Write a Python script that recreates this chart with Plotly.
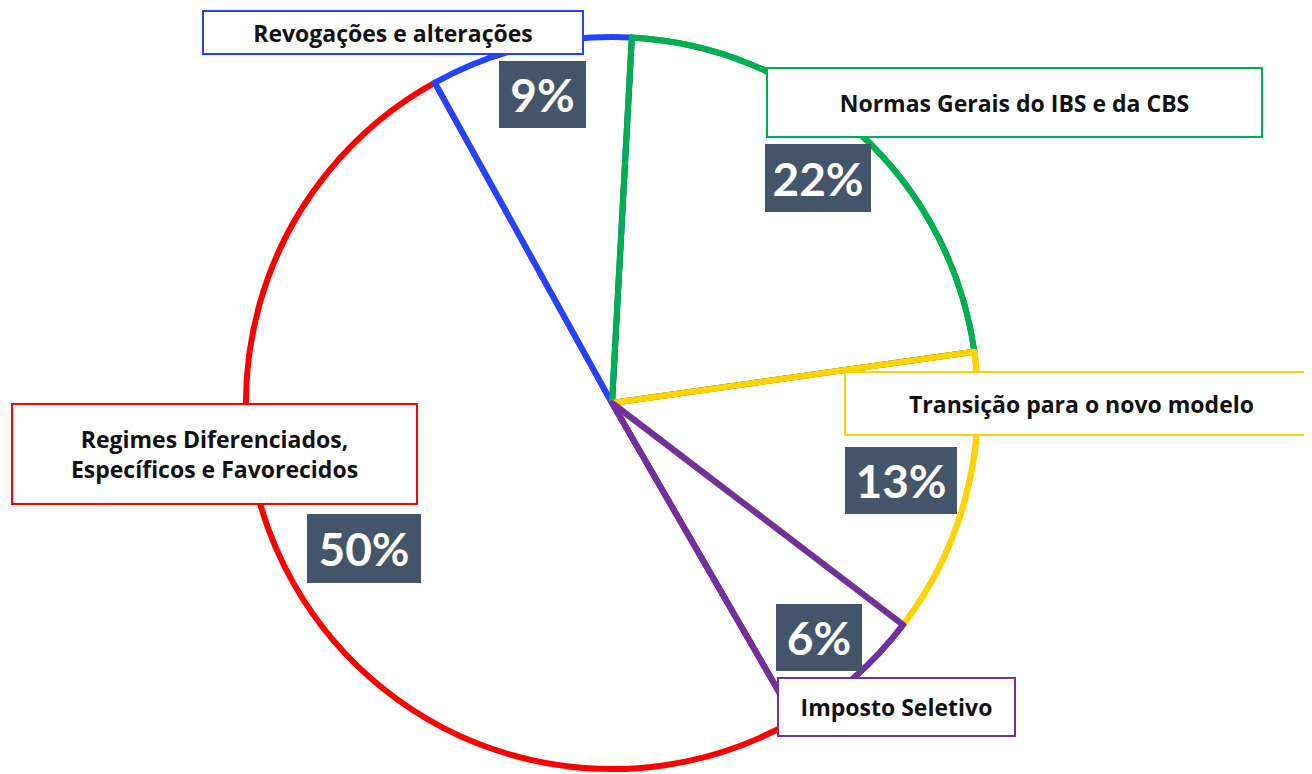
import plotly.graph_objects as go

# ---- data ----
categories = [
    "Normas Gerais do IBS e da CBS",
    "Transição para o novo modelo",
    "Imposto Seletivo",
    "Regimes Diferenciados,<br>Específicos e Favorecidos",
    "Revogações e alterações",
]
shares = [21.9, 12.6, 6.3, 50.3, 8.9]
pct_labels = [f"{round(v)}%" for v in shares]

# ---- styles ----
colors = ["#00B050", "#FFD200", "#7030A0", "#FF0000", "#2343FF"]
W, H = 1312, 774
OFF = 8  # page body margin: shift everything so it lands where the reference has it
CX, CY, R = 612 - OFF, 403 - OFF, 366
TRANSPARENT = "rgba(0,0,0,0)"

dom_x = [(CX - R) / W, (CX + R) / W]
dom_y = [1 - (CY + R) / H, 1 - (CY - R) / H]

fig = go.Figure()


def add_pie(line_colors, fill_colors):
    fig.add_trace(go.Pie(
        labels=categories,
        values=shares,
        sort=False,
        direction="clockwise",
        rotation=3.1,
        textinfo="none",
        hoverinfo="skip",
        showlegend=False,
        domain=dict(x=dom_x, y=dom_y),
        marker=dict(colors=fill_colors, line=dict(color=line_colors, width=6)),
    ))


# base layer with every outline
add_pie(colors, ["white"] * len(shares))
# overlay layers so that shared edges take the right colour
for idx in (0, 1, 2):
    lc = [TRANSPARENT] * len(shares)
    lc[idx] = colors[idx]
    add_pie(lc, [TRANSPARENT] * len(shares))

# ---- category label boxes (center px, size px) ----
label_boxes = [
    (1014.5, 102.5, 497, 71),
    (1081.5, 403.5, 475, 65),
    (896.5, 707, 239, 60),
    (214.5, 454, 407, 102),
    (393, 32.5, 382, 45),
]
# ---- percentage boxes (center px, size px) ----
pct_boxes = [
    (818, 178, 106, 68),
    (901, 480, 112, 67),
    (819, 637, 86, 67),
    (364, 548, 114, 69),
    (542, 94, 87, 67),
]

annotations = []
for i, cat in enumerate(categories):
    x, y, bw, bh = label_boxes[i]
    annotations.append(dict(
        text=cat, x=(x - OFF) / W, y=1 - (y - OFF) / H, xref="paper", yref="paper",
        xanchor="center", yanchor="middle", showarrow=False,
        width=bw - 4, height=bh - 4, borderpad=0, borderwidth=2,
        bordercolor=colors[i], bgcolor="white", align="center", valign="middle",
        font=dict(family="Open Sans", size=23, color="#111111", weight="bold"),
    ))
for i, p in enumerate(pct_labels):
    x, y, bw, bh = pct_boxes[i]
    annotations.append(dict(
        text=p, x=(x - OFF) / W, y=1 - (y - OFF) / H, xref="paper", yref="paper",
        xanchor="center", yanchor="middle", showarrow=False,
        width=bw, height=bh, borderpad=0, borderwidth=0,
        bgcolor="#44546A", align="center", valign="middle",
        font=dict(family="Lato", size=46, color="white", weight="bold"),
    ))

fig.update_layout(
    width=W, height=H,
    margin=dict(l=0, r=0, t=0, b=0),
    paper_bgcolor="white", plot_bgcolor="white",
    annotations=annotations,
)

fig.write_html("out.html")
